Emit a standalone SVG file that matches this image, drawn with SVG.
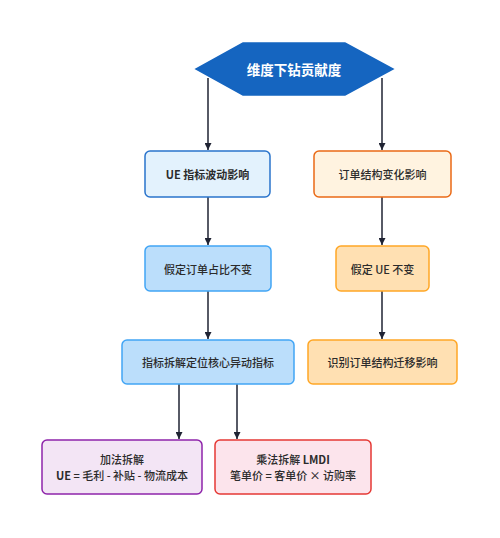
<svg xmlns="http://www.w3.org/2000/svg" width="500" height="538" viewBox="0 0 500 538">
<defs>
<marker id="ah" viewBox="0 0 10 10" refX="10" refY="5" markerWidth="7" markerHeight="7" markerUnits="userSpaceOnUse" orient="auto">
<path d="M0,0 L10,5 L0,10 Z" fill="#1f2333"/>
</marker>
<style>
text{font-family:"Noto Sans CJK SC","Noto Sans",sans-serif;font-size:11px;fill:#2b2b2b;text-anchor:middle;dominant-baseline:central;font-weight:500}
.c{stroke:#1f2333;stroke-width:1.5;fill:none;marker-end:url(#ah)}
.n{stroke-width:1.5}
</style>
</defs>
<rect width="500" height="538" fill="#ffffff"/>
<g id="connectors">
<path class="c" d="M208,78 V150"/>
<path class="c" d="M382,78 V150"/>
<path class="c" d="M208,197 V245"/>
<path class="c" d="M382,197 V245"/>
<path class="c" d="M208,291 V339"/>
<path class="c" d="M382,291 V339"/>
<path class="c" d="M179,384 V439"/>
<path class="c" d="M237,384 V439"/>
</g>
<g id="root">
<polygon points="243,43 345,43 393,69 345,95 243,95 196,69" fill="#1565c0" stroke="#1565c0" stroke-width="1.5"/>
<text x="294" y="69" style="fill:#ffffff;font-size:13.5px;font-weight:700">维度下钻贡献度</text>
</g>
<g id="ue">
<rect class="n" x="145" y="151" width="125" height="46" rx="5" fill="#e3f2fd" stroke="#2a74cc"/>
<text x="207.5" y="174" style="font-weight:600">UE 指标波动影响</text>
</g>
<g id="order">
<rect class="n" x="314" y="151" width="137" height="46" rx="5" fill="#fff3e0" stroke="#ea6a16"/>
<text x="382.5" y="174">订单结构变化影响</text>
</g>
<g id="assume-order">
<rect class="n" x="145" y="246" width="126" height="45" rx="5" fill="#bbdefb" stroke="#42a5f5"/>
<text x="208" y="268.5">假定订单占比不变</text>
</g>
<g id="assume-ue">
<rect class="n" x="336" y="246" width="93" height="45" rx="5" fill="#ffe0b2" stroke="#ffa726"/>
<text x="382.5" y="268.5">假定 UE 不变</text>
</g>
<g id="locate">
<rect class="n" x="122" y="340" width="172" height="44" rx="5" fill="#bbdefb" stroke="#42a5f5"/>
<text x="208" y="362">指标拆解定位核心异动指标</text>
</g>
<g id="identify">
<rect class="n" x="308" y="340" width="149" height="44" rx="5" fill="#ffe0b2" stroke="#ffa726"/>
<text x="382.5" y="362">识别订单结构迁移影响</text>
</g>
<g id="add">
<rect class="n" x="42" y="440" width="160" height="54" rx="5" fill="#f3e5f5" stroke="#8e24aa"/>
<text x="122" y="459">加法拆解</text>
<text x="122" y="475"><tspan style="font-weight:700">UE</tspan> = 毛利 - 补贴 - 物流成本</text>
</g>
<g id="mul">
<rect class="n" x="215" y="440" width="156" height="54" rx="5" fill="#fce4ec" stroke="#e53935"/>
<text x="293" y="459">乘法拆解 <tspan style="font-weight:700">LMDI</tspan></text>
<text x="293" y="475">笔单价 = 客单价 × 访购率</text>
</g>
</svg>
